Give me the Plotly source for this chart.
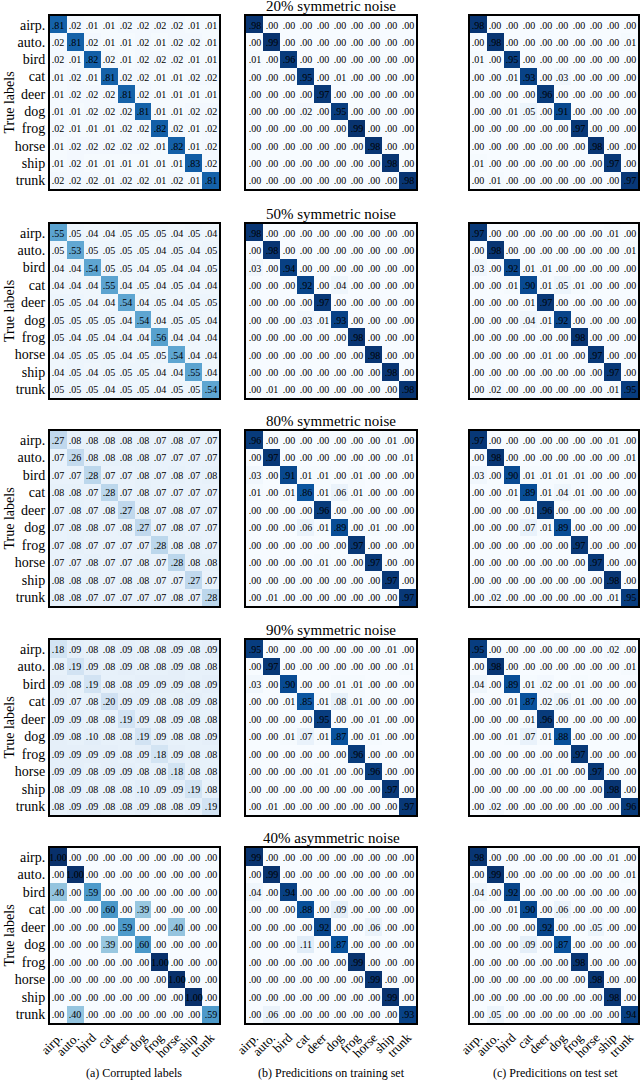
import plotly.graph_objects as go
import plotly.colors as pc

classes = ["airp.", "auto.", "bird", "cat", "deer", "dog", "frog", "horse", "ship", "trunk"]
row_titles = ["20% symmetric noise", "50% symmetric noise", "80% symmetric noise",
              "90% symmetric noise", "40% asymmetric noise"]
captions = ["(a) Corrupted labels", "(b) Predicitions on training set", "(c) Predicitions on test set"]

# ---------------- 20% symmetric ----------------
sym20_corrupted = [
    [.81, .02, .01, .01, .02, .02, .02, .02, .01, .01],
    [.02, .81, .02, .01, .01, .02, .01, .02, .02, .01],
    [.02, .01, .82, .02, .01, .02, .02, .02, .01, .01],
    [.01, .02, .01, .81, .02, .02, .01, .01, .02, .02],
    [.01, .02, .02, .02, .81, .02, .01, .01, .01, .01],
    [.01, .01, .02, .02, .02, .81, .01, .01, .02, .02],
    [.02, .01, .01, .01, .02, .02, .82, .02, .01, .02],
    [.01, .02, .02, .02, .02, .02, .01, .82, .01, .02],
    [.01, .02, .01, .01, .01, .01, .01, .01, .83, .02],
    [.02, .02, .02, .01, .02, .02, .01, .02, .01, .81],
]
sym20_train = [
    [.98, .00, .00, .00, .00, .00, .00, .00, .00, .00],
    [.00, .99, .00, .00, .00, .00, .00, .00, .00, .00],
    [.01, .00, .96, .00, .00, .00, .00, .00, .00, .00],
    [.00, .00, .00, .95, .00, .01, .00, .00, .00, .00],
    [.00, .00, .00, .00, .97, .00, .00, .00, .00, .00],
    [.00, .00, .00, .02, .00, .95, .00, .00, .00, .00],
    [.00, .00, .00, .00, .00, .00, .99, .00, .00, .00],
    [.00, .00, .00, .00, .00, .00, .00, .98, .00, .00],
    [.00, .00, .00, .00, .00, .00, .00, .00, .98, .00],
    [.00, .00, .00, .00, .00, .00, .00, .00, .00, .98],
]
sym20_test = [
    [.98, .00, .00, .00, .00, .00, .00, .00, .00, .00],
    [.00, .98, .00, .00, .00, .00, .00, .00, .00, .01],
    [.01, .00, .95, .00, .00, .00, .00, .00, .00, .00],
    [.00, .00, .01, .93, .00, .03, .00, .00, .00, .00],
    [.00, .00, .00, .00, .96, .00, .00, .00, .00, .00],
    [.00, .00, .01, .05, .00, .91, .00, .00, .00, .00],
    [.00, .00, .00, .00, .00, .00, .97, .00, .00, .00],
    [.00, .00, .00, .00, .00, .00, .00, .98, .00, .00],
    [.01, .00, .00, .00, .00, .00, .00, .00, .97, .00],
    [.00, .01, .00, .00, .00, .00, .00, .00, .00, .97],
]

# ---------------- 50% symmetric ----------------
sym50_corrupted = [
    [.55, .05, .04, .04, .05, .05, .05, .04, .05, .04],
    [.05, .53, .05, .05, .05, .05, .04, .05, .04, .05],
    [.04, .04, .54, .05, .05, .04, .05, .04, .04, .05],
    [.04, .04, .04, .55, .04, .05, .04, .05, .04, .04],
    [.05, .05, .04, .04, .54, .04, .05, .04, .05, .05],
    [.05, .05, .05, .05, .04, .54, .04, .05, .05, .04],
    [.05, .04, .05, .04, .04, .04, .56, .04, .04, .04],
    [.04, .05, .05, .05, .04, .05, .05, .54, .04, .04],
    [.04, .05, .04, .05, .05, .05, .04, .04, .55, .04],
    [.05, .05, .05, .04, .05, .05, .04, .05, .05, .54],
]
sym50_train = [
    [.98, .00, .00, .00, .00, .00, .00, .00, .00, .00],
    [.00, .98, .00, .00, .00, .00, .00, .00, .00, .00],
    [.03, .00, .94, .00, .00, .00, .00, .00, .00, .00],
    [.00, .00, .00, .92, .00, .04, .00, .00, .00, .00],
    [.00, .00, .00, .00, .97, .00, .00, .00, .00, .00],
    [.00, .00, .00, .03, .01, .93, .00, .00, .00, .00],
    [.00, .00, .00, .00, .00, .00, .98, .00, .00, .00],
    [.00, .00, .00, .00, .00, .00, .00, .98, .00, .00],
    [.00, .00, .00, .00, .00, .00, .00, .00, .98, .00],
    [.00, .01, .00, .00, .00, .00, .00, .00, .00, .98],
]
sym50_test = [
    [.97, .00, .00, .00, .00, .00, .00, .00, .01, .00],
    [.00, .98, .00, .00, .00, .00, .00, .00, .00, .01],
    [.03, .00, .92, .01, .01, .00, .00, .00, .00, .00],
    [.00, .00, .01, .90, .01, .05, .01, .00, .00, .00],
    [.00, .00, .00, .01, .97, .00, .00, .00, .00, .00],
    [.00, .00, .00, .04, .01, .92, .00, .00, .00, .00],
    [.00, .00, .00, .00, .00, .00, .98, .00, .00, .00],
    [.00, .00, .00, .00, .01, .00, .00, .97, .00, .00],
    [.00, .00, .00, .00, .00, .00, .00, .00, .97, .00],
    [.00, .02, .00, .00, .00, .00, .00, .00, .01, .95],
]

# ---------------- 80% symmetric ----------------
sym80_corrupted = [
    [.27, .08, .08, .08, .08, .08, .07, .08, .07, .07],
    [.07, .26, .08, .08, .08, .08, .07, .07, .07, .07],
    [.07, .07, .28, .07, .07, .08, .07, .08, .07, .08],
    [.08, .08, .07, .28, .07, .08, .07, .07, .07, .07],
    [.07, .08, .07, .08, .27, .08, .07, .08, .07, .07],
    [.07, .08, .08, .07, .08, .27, .07, .08, .07, .07],
    [.07, .08, .07, .07, .07, .07, .28, .08, .08, .07],
    [.07, .07, .08, .07, .07, .08, .07, .28, .08, .08],
    [.08, .08, .08, .07, .08, .08, .07, .07, .27, .07],
    [.08, .08, .07, .07, .07, .07, .07, .08, .07, .28],
]
sym80_train = [
    [.96, .00, .00, .00, .00, .00, .00, .00, .01, .00],
    [.00, .97, .00, .00, .00, .00, .00, .00, .00, .01],
    [.03, .00, .91, .01, .01, .00, .01, .00, .00, .00],
    [.01, .00, .01, .86, .01, .06, .01, .00, .00, .00],
    [.00, .00, .00, .00, .96, .00, .00, .00, .00, .00],
    [.00, .00, .00, .06, .01, .89, .00, .01, .00, .00],
    [.00, .00, .00, .00, .00, .00, .97, .00, .00, .00],
    [.00, .00, .00, .00, .01, .00, .00, .97, .00, .00],
    [.00, .00, .00, .00, .00, .00, .00, .00, .97, .00],
    [.00, .01, .00, .00, .00, .00, .00, .00, .00, .97],
]
sym80_test = [
    [.97, .00, .00, .00, .00, .00, .00, .00, .01, .00],
    [.00, .98, .00, .00, .00, .00, .00, .00, .00, .01],
    [.03, .00, .90, .01, .01, .01, .01, .00, .00, .00],
    [.00, .00, .01, .89, .01, .04, .01, .00, .00, .00],
    [.00, .00, .00, .01, .96, .00, .00, .00, .00, .00],
    [.00, .00, .00, .07, .01, .89, .00, .00, .00, .00],
    [.00, .00, .00, .00, .00, .00, .97, .00, .00, .00],
    [.00, .00, .00, .00, .00, .00, .00, .97, .00, .00],
    [.00, .00, .00, .00, .00, .00, .00, .00, .98, .00],
    [.00, .02, .00, .00, .00, .00, .00, .00, .01, .95],
]

# ---------------- 90% symmetric ----------------
sym90_corrupted = [
    [.18, .09, .08, .08, .09, .08, .08, .09, .08, .09],
    [.08, .19, .09, .08, .09, .08, .08, .09, .08, .08],
    [.09, .08, .19, .08, .08, .09, .09, .09, .08, .09],
    [.09, .07, .08, .20, .09, .09, .08, .08, .09, .08],
    [.09, .09, .08, .08, .19, .09, .08, .09, .08, .08],
    [.09, .08, .10, .08, .08, .19, .09, .08, .08, .09],
    [.09, .09, .09, .09, .08, .09, .18, .09, .08, .08],
    [.09, .09, .08, .09, .09, .08, .08, .18, .08, .08],
    [.08, .09, .08, .08, .08, .10, .09, .09, .19, .08],
    [.08, .09, .09, .08, .08, .09, .08, .08, .09, .19],
]
sym90_train = [
    [.95, .00, .00, .00, .00, .00, .00, .00, .01, .00],
    [.00, .97, .00, .00, .00, .00, .00, .00, .00, .01],
    [.03, .00, .90, .00, .00, .01, .01, .00, .00, .00],
    [.00, .00, .01, .85, .01, .08, .01, .00, .00, .00],
    [.00, .00, .00, .00, .95, .00, .00, .01, .00, .00],
    [.00, .00, .01, .07, .01, .87, .00, .01, .00, .00],
    [.00, .00, .00, .00, .00, .00, .96, .00, .00, .00],
    [.00, .00, .00, .00, .01, .00, .00, .96, .00, .00],
    [.00, .00, .00, .00, .00, .00, .00, .00, .97, .00],
    [.00, .01, .00, .00, .00, .00, .00, .00, .00, .97],
]
sym90_test = [
    [.95, .00, .00, .00, .00, .00, .00, .00, .02, .00],
    [.00, .98, .00, .00, .00, .00, .00, .00, .00, .01],
    [.04, .00, .89, .01, .02, .00, .01, .00, .00, .00],
    [.00, .00, .01, .87, .02, .06, .01, .00, .00, .00],
    [.00, .00, .00, .01, .96, .00, .00, .00, .00, .00],
    [.00, .00, .01, .07, .01, .88, .00, .00, .00, .00],
    [.00, .00, .00, .00, .00, .00, .97, .00, .00, .00],
    [.00, .00, .00, .00, .01, .00, .00, .97, .00, .00],
    [.00, .00, .00, .00, .00, .00, .00, .00, .98, .00],
    [.00, .02, .00, .00, .00, .00, .00, .00, .00, .96],
]

# ---------------- 40% asymmetric ----------------
asym40_corrupted = [
    [1.00, .00, .00, .00, .00, .00, .00, .00, .00, .00],
    [.00, 1.00, .00, .00, .00, .00, .00, .00, .00, .00],
    [.40, .00, .59, .00, .00, .00, .00, .00, .00, .00],
    [.00, .00, .00, .60, .00, .39, .00, .00, .00, .00],
    [.00, .00, .00, .00, .59, .00, .00, .40, .00, .00],
    [.00, .00, .00, .39, .00, .60, .00, .00, .00, .00],
    [.00, .00, .00, .00, .00, .00, 1.00, .00, .00, .00],
    [.00, .00, .00, .00, .00, .00, .00, 1.00, .00, .00],
    [.00, .00, .00, .00, .00, .00, .00, .00, 1.00, .00],
    [.00, .40, .00, .00, .00, .00, .00, .00, .00, .59],
]
asym40_train = [
    [.99, .00, .00, .00, .00, .00, .00, .00, .00, .00],
    [.00, .99, .00, .00, .00, .00, .00, .00, .00, .00],
    [.04, .00, .94, .00, .00, .00, .00, .00, .00, .00],
    [.00, .00, .00, .88, .00, .09, .00, .00, .00, .00],
    [.00, .00, .00, .00, .92, .00, .00, .06, .00, .00],
    [.00, .00, .00, .11, .00, .87, .00, .00, .00, .00],
    [.00, .00, .00, .00, .00, .00, .99, .00, .00, .00],
    [.00, .00, .00, .00, .00, .00, .00, .99, .00, .00],
    [.00, .00, .00, .00, .00, .00, .00, .00, .99, .00],
    [.00, .06, .00, .00, .00, .00, .00, .00, .00, .93],
]
asym40_test = [
    [.98, .00, .00, .00, .00, .00, .00, .00, .01, .00],
    [.00, .99, .00, .00, .00, .00, .00, .00, .00, .01],
    [.04, .00, .92, .00, .00, .00, .00, .00, .00, .00],
    [.00, .00, .01, .90, .00, .06, .00, .00, .00, .00],
    [.00, .00, .00, .00, .92, .00, .00, .05, .00, .00],
    [.00, .00, .00, .09, .00, .87, .00, .00, .00, .00],
    [.00, .00, .00, .00, .00, .00, .98, .00, .00, .00],
    [.00, .00, .00, .00, .00, .00, .00, .98, .00, .00],
    [.00, .00, .00, .00, .00, .00, .00, .00, .98, .00],
    [.00, .05, .00, .00, .00, .00, .00, .00, .00, .94],
]

grid = [
    [sym20_corrupted, sym20_train, sym20_test],
    [sym50_corrupted, sym50_train, sym50_test],
    [sym80_corrupted, sym80_train, sym80_test],
    [sym90_corrupted, sym90_train, sym90_test],
    [asym40_corrupted, asym40_train, asym40_test],
]

W, H = 640, 1081
col_px = [(50, 219), (246, 416), (470, 638)]
row_px = [(16, 189), (224, 398), (431, 606), (640, 815), (848, 1023)]
title_y = [6, 214, 421, 630, 838]

FONT = "Liberation Serif"
blues = pc.sequential.Blues
cscale = [[i / (len(blues) - 1), c] for i, c in enumerate(blues)]


def fmt(v):
    s = f"{v:.2f}"
    return s[1:] if s.startswith("0") else s


fig = go.Figure()
layout = {}
for r in range(5):
    for c in range(3):
        k = r * 3 + c + 1
        xa = "x" if k == 1 else f"x{k}"
        ya = "y" if k == 1 else f"y{k}"
        z = grid[r][c]
        text = [[fmt(v) for v in row] for row in z]
        fig.add_trace(go.Heatmap(
            z=z, x=classes, y=classes, text=text, texttemplate="%{text}",
            textfont=dict(family=FONT, size=10, color="black"),
            colorscale=cscale, zmin=0, zmax=1, showscale=False,
            xaxis=xa, yaxis=ya, hoverinfo="skip",
        ))
        x0, x1 = col_px[c]
        y0, y1 = row_px[r]
        layout["xaxis" if k == 1 else f"xaxis{k}"] = dict(
            domain=[x0 / W, x1 / W], anchor=ya, automargin=False,
            showline=True, mirror=True, linecolor="black", linewidth=2,
            ticks="", showgrid=False, zeroline=False,
            showticklabels=(r == 4), tickangle=-45,
            tickfont=dict(family=FONT, size=13, color="black"),
            range=[-0.5, 9.5],
        )
        layout["yaxis" if k == 1 else f"yaxis{k}"] = dict(
            domain=[1 - y1 / H, 1 - y0 / H], anchor=xa, automargin=False,
            showline=True, mirror=True, linecolor="black", linewidth=2,
            ticks="", showgrid=False, zeroline=False,
            showticklabels=(c == 0), autorange="reversed",
            tickfont=dict(family=FONT, size=14, color="black"),
        )

annotations = []
for r in range(5):
    annotations.append(dict(
        text=row_titles[r], x=331 / W, y=1 - title_y[r] / H, xref="paper", yref="paper",
        showarrow=False, font=dict(family=FONT, size=15, color="black"),
        xanchor="center", yanchor="middle"))
    y0, y1 = row_px[r]
    annotations.append(dict(
        text="True labels", x=9 / W, y=1 - (y0 + y1) / 2 / H, xref="paper", yref="paper",
        showarrow=False, textangle=-90, font=dict(family=FONT, size=14, color="black"),
        xanchor="center", yanchor="middle"))
cap_x = [134, 331, 555]
for c in range(3):
    annotations.append(dict(
        text=captions[c], x=cap_x[c] / W, y=1 - 1073 / H, xref="paper", yref="paper",
        showarrow=False, font=dict(family=FONT, size=12, color="black"),
        xanchor="center", yanchor="middle"))

fig.update_layout(
    width=W, height=H, margin=dict(l=0, r=0, t=0, b=0),
    paper_bgcolor="white", plot_bgcolor="white", template="none",
    annotations=annotations, showlegend=False, **layout,
)
fig.write_html(
    "out.html",
    config={"displayModeBar": False, "staticPlot": True},
    post_script="document.body.style.margin='0';document.body.style.overflow='hidden';",
)
